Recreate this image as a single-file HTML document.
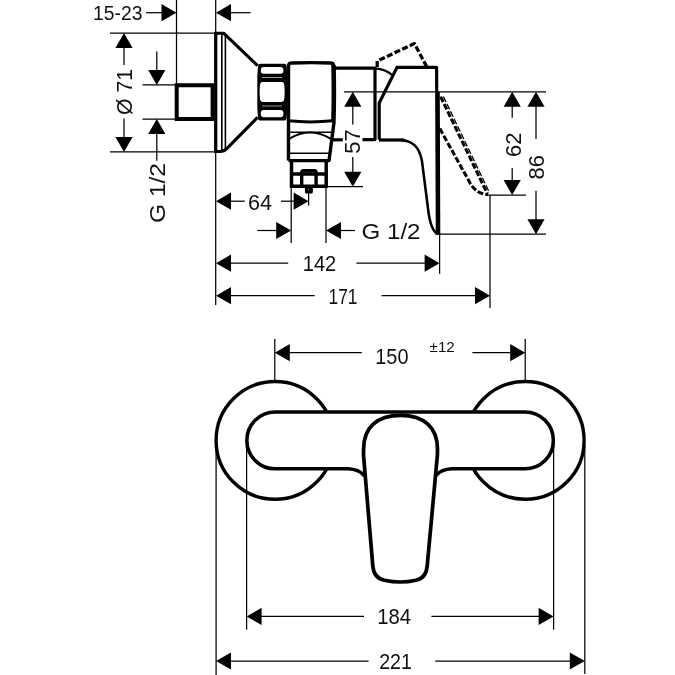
<!DOCTYPE html>
<html><head><meta charset="utf-8"><title>Drawing</title>
<style>
html,body{margin:0;padding:0;background:#fff;}
svg{display:block;will-change:transform;opacity:0.999}
text{font-family:"Liberation Sans",sans-serif;fill:#111;stroke:none}
.a{fill:#000;stroke:none}
</style></head><body>
<svg width="675" height="675" viewBox="0 0 675 675" fill="none" stroke="#000" stroke-linecap="butt" stroke-linejoin="round">
<line x1="176.5" y1="0" x2="176.5" y2="86" stroke-width="1.25"/>
<line x1="215.7" y1="0" x2="215.7" y2="305" stroke-width="1.25"/>
<line x1="110" y1="33.1" x2="216" y2="33.1" stroke-width="1.25"/>
<line x1="110" y1="151.9" x2="216" y2="151.9" stroke-width="1.25"/>
<line x1="142.5" y1="84.9" x2="176.5" y2="84.9" stroke-width="1.25"/>
<line x1="142.5" y1="119" x2="176.5" y2="119" stroke-width="1.25"/>
<polygon class="a" points="124.0,33.1 115.4,48.1 132.6,48.1"/>
<line x1="124" y1="47" x2="124" y2="65" stroke-width="1.25"/>
<line x1="124" y1="118.4" x2="124" y2="137" stroke-width="1.25"/>
<polygon class="a" points="124.0,151.9 115.4,136.9 132.6,136.9"/>
<line x1="156.8" y1="51.6" x2="156.8" y2="71" stroke-width="1.25"/>
<polygon class="a" points="156.8,84.9 148.2,69.9 165.4,69.9"/>
<polygon class="a" points="156.8,119.0 148.2,134.0 165.4,134.0"/>
<line x1="156.8" y1="133" x2="156.8" y2="160.7" stroke-width="1.25"/>
<line x1="146" y1="12.7" x2="162" y2="12.7" stroke-width="1.25"/>
<polygon class="a" points="176.5,12.7 161.5,4.1 161.5,21.3"/>
<polygon class="a" points="216.0,12.7 231.0,4.1 231.0,21.3"/>
<line x1="230" y1="12.7" x2="250.5" y2="12.7" stroke-width="1.25"/>
<line x1="343.9" y1="91.8" x2="546" y2="91.8" stroke-width="1.25"/>
<polygon class="a" points="352.8,91.8 344.2,106.8 361.4,106.8"/>
<line x1="352.8" y1="106" x2="352.8" y2="124.4" stroke-width="1.25"/>
<line x1="352.8" y1="157" x2="352.8" y2="173" stroke-width="1.25"/>
<polygon class="a" points="352.8,186.7 344.2,171.7 361.4,171.7"/>
<line x1="327" y1="186.7" x2="363" y2="186.7" stroke-width="1.25"/>
<polygon class="a" points="512.2,91.8 503.6,106.8 520.8,106.8"/>
<line x1="512.2" y1="106" x2="512.2" y2="117.8" stroke-width="1.25"/>
<line x1="512.2" y1="168" x2="512.2" y2="181" stroke-width="1.25"/>
<polygon class="a" points="512.2,195.0 503.6,180.0 520.8,180.0"/>
<line x1="487" y1="195" x2="526" y2="195" stroke-width="1.25"/>
<polygon class="a" points="536.0,91.8 527.4,106.8 544.6,106.8"/>
<line x1="536" y1="106" x2="536" y2="139" stroke-width="1.25"/>
<line x1="536" y1="190.8" x2="536" y2="220" stroke-width="1.25"/>
<polygon class="a" points="536.0,234.2 527.4,219.2 544.6,219.2"/>
<line x1="439" y1="234.2" x2="546" y2="234.2" stroke-width="1.25"/>
<line x1="439.6" y1="234" x2="439.6" y2="273.8" stroke-width="1.25"/>
<line x1="490" y1="195" x2="490" y2="308" stroke-width="1.25"/>
<line x1="291.2" y1="186" x2="291.2" y2="243" stroke-width="1.25"/>
<line x1="326" y1="186" x2="326" y2="243" stroke-width="1.25"/>
<line x1="308.6" y1="193" x2="308.6" y2="205.6" stroke-width="1.25"/>
<polygon class="a" points="216.0,201.2 231.0,192.6 231.0,209.8"/>
<line x1="230" y1="201.2" x2="244.8" y2="201.2" stroke-width="1.25"/>
<line x1="281" y1="201.2" x2="294.5" y2="201.2" stroke-width="1.25"/>
<polygon class="a" points="308.6,201.2 293.6,192.6 293.6,209.8"/>
<line x1="257.4" y1="230.5" x2="277" y2="230.5" stroke-width="1.25"/>
<polygon class="a" points="291.2,230.5 276.2,221.9 276.2,239.1"/>
<polygon class="a" points="326.0,230.5 341.0,221.9 341.0,239.1"/>
<line x1="340" y1="230.5" x2="355" y2="230.5" stroke-width="1.25"/>
<polygon class="a" points="216.0,263.2 231.0,254.6 231.0,271.8"/>
<line x1="230" y1="263.2" x2="288.2" y2="263.2" stroke-width="1.25"/>
<line x1="356.4" y1="263.2" x2="425" y2="263.2" stroke-width="1.25"/>
<polygon class="a" points="439.6,263.2 424.6,254.6 424.6,271.8"/>
<polygon class="a" points="216.0,295.7 231.0,287.1 231.0,304.3"/>
<line x1="230" y1="295.7" x2="314.6" y2="295.7" stroke-width="1.25"/>
<line x1="381.6" y1="295.7" x2="475" y2="295.7" stroke-width="1.25"/>
<polygon class="a" points="490.0,295.7 475.0,287.1 475.0,304.3"/>
<text x="117.7" y="20.2" font-size="20" text-anchor="middle" textLength="49.4" lengthAdjust="spacingAndGlyphs">15-23</text>
<text x="132.4" y="92" font-size="21.5" text-anchor="middle" transform="rotate(-90 132.4 92)" textLength="46" lengthAdjust="spacingAndGlyphs">Ø 71</text>
<text x="165" y="193" font-size="22" text-anchor="middle" transform="rotate(-90 165 193)" textLength="60" lengthAdjust="spacingAndGlyphs">G 1/2</text>
<text x="260" y="210" font-size="22" text-anchor="middle" textLength="24" lengthAdjust="spacingAndGlyphs">64</text>
<text x="391" y="238.6" font-size="22" text-anchor="middle" textLength="59" lengthAdjust="spacingAndGlyphs">G 1/2</text>
<text x="319.5" y="270.8" font-size="22" text-anchor="middle" textLength="33.5" lengthAdjust="spacingAndGlyphs">142</text>
<text x="343" y="303.7" font-size="22" text-anchor="middle" textLength="29" lengthAdjust="spacingAndGlyphs">171</text>
<text x="360.4" y="141.5" font-size="22" text-anchor="middle" transform="rotate(-90 360.4 141.5)">57</text>
<text x="520.8" y="144.8" font-size="22" text-anchor="middle" transform="rotate(-90 520.8 144.8)">62</text>
<text x="544.2" y="167.2" font-size="22" text-anchor="middle" transform="rotate(-90 544.2 167.2)">86</text>
<path d="M214,85.2 H176.7 V119 H214" stroke-width="4.0" stroke-linejoin="miter"/>
<line x1="212.4" y1="84" x2="212.4" y2="120" stroke-width="3.6"/>
<path d="M215.7,32 V153" stroke-width="3.3" />
<path d="M214.4,33.2 H223.6 L257.5,65.6" stroke-width="3.1" />
<path d="M214.4,151.5 H220 Q224,151.5 227,148.4 L257.5,117.4" stroke-width="3.1" />
<line x1="221.8" y1="33" x2="221.8" y2="152" stroke-width="1.7"/>
<path d="M225.4,35 V150" stroke-width="1.6" />
<path d="M260.4,63.8 H284.2 Q286.4,63.8 286.6,66 L287.3,76 V108 L286.6,118.4 Q286.4,120.6 284.2,120.6 H260.4 Q258.2,120.6 258,118.4 L257.3,108 V76 L258,66 Q258.2,63.8 260.4,63.8 Z" fill="#000" stroke="none"/>
<rect x="260.8" y="67" width="22.6" height="6.8" rx="3" fill="#fff" stroke="none"/>
<rect x="260.8" y="110" width="22.6" height="7.2" rx="3" fill="#fff" stroke="none"/>
<path d="M262.4,81.9 H281.8 Q284.2,82 284.4,86 Q285,92 284.4,98 Q284.2,101.8 281.8,101.9 H262.4 Q260,101.8 259.9,98 Q259.3,92 259.9,86 Q260,82 262.4,81.9 Z" fill="#fff" stroke="none"/>
<rect x="262" y="77.1" width="20" height="0.8" fill="#bbb" stroke="none"/>
<rect x="262" y="105.6" width="20" height="0.8" fill="#bbb" stroke="none"/>
<path d="M288.5,160.6 V66 Q288.5,63 291.5,63 Q312,62.3 331,63 Q333.6,63.2 333.6,66" stroke-width="3.4" />
<path d="M333.5,65 Q334.3,95 333.4,121" stroke-width="4.6" />
<path d="M334.2,121 L329,160.6 H288.5" stroke-width="3.4" />
<path d="M288.5,120.8 Q310,123 333,120.8" stroke-width="3.0" />
<line x1="289" y1="132.2" x2="331.5" y2="132.2" stroke-width="1.5"/>
<path d="M289.6,138.6 Q310,126.4 330.4,138.6" stroke-width="1.9" />
<line x1="289" y1="153.2" x2="330" y2="153.2" stroke-width="1.5"/>
<path d="M334.6,68.2 H375 V139.6 H362.5" stroke-width="3.2" />
<path d="M342.8,139.8 H330" stroke-width="3.2" />
<path d="M291.5,160 V186.2 H326.2 V160" stroke-width="3.5" stroke-linejoin="miter"/>
<line x1="291.5" y1="174" x2="326.2" y2="174" stroke-width="3.6"/>
<path d="M301.7,186 V172.6 Q301.7,170.8 303.5,170.8 H314.3 Q316.1,170.8 316.1,172.6 V186" stroke-width="3.4" />
<rect x="304.9" y="186" width="8" height="7.6" rx="1.6" fill="#000" stroke="none"/>
<circle cx="308.6" cy="189.2" r="0.55" fill="#ddd" stroke="none"/>
<path d="M379.2,139.6 V103 L397,67.4 H437 " stroke-width="3.2" />
<path d="M375,68.4 Q386,69.5 392,75" stroke-width="2.2" />
<path d="M379,140 H404" stroke-width="3.2" />
<path d="M401,140.1 C412,140.6 419,146 421.9,160.6 L428,208.3 C429.5,222 432,231.5 438,234.2" stroke-width="2.6" />
<path d="M436.6,66.2 L437.4,234.6" stroke-width="3.2" />
<path d="M438.8,92 L439.3,234.6" stroke-width="2.0" />
<path d="M377.2,67 V61 L414.4,43.6 L426.6,66.5" stroke-width="3.3" stroke-dasharray="6 2.4"/>
<path d="M440.6,96.6 L487.5,194" stroke-width="3.0" stroke-dasharray="6 2.2"/>
<path d="M439.8,128.6 L469.5,182 Q476,194.3 488,194.5" stroke-width="3.0" stroke-dasharray="6 2.2"/>
<path d="M443.4,96.6 L488.6,190.8" stroke-width="1.3" stroke-dasharray="6 2.2"/>
<line x1="274.8" y1="338.9" x2="274.8" y2="381" stroke-width="1.25"/>
<line x1="525.2" y1="338.9" x2="525.2" y2="381" stroke-width="1.25"/>
<polygon class="a" points="274.8,352.7 289.8,344.1 289.8,361.3"/>
<line x1="289" y1="352.7" x2="361.8" y2="352.7" stroke-width="1.25"/>
<line x1="472.4" y1="352.7" x2="511" y2="352.7" stroke-width="1.25"/>
<polygon class="a" points="525.2,352.7 510.2,344.1 510.2,361.3"/>
<text x="391.9" y="364.3" font-size="22" text-anchor="middle" textLength="33.2" lengthAdjust="spacingAndGlyphs">150</text>
<text x="442.2" y="352.4" font-size="14.6" text-anchor="middle" textLength="25.2" lengthAdjust="spacingAndGlyphs">±12</text>
<line x1="216.1" y1="446" x2="216.1" y2="675" stroke-width="1.25"/>
<line x1="584.8" y1="446" x2="584.8" y2="674" stroke-width="1.25"/>
<line x1="246.6" y1="440" x2="246.6" y2="629.7" stroke-width="1.25"/>
<line x1="553.6" y1="440" x2="553.6" y2="629.7" stroke-width="1.25"/>
<polygon class="a" points="246.6,616.4 261.6,607.8 261.6,625.0"/>
<line x1="260" y1="616.4" x2="364" y2="616.4" stroke-width="1.25"/>
<line x1="431.4" y1="616.4" x2="539" y2="616.4" stroke-width="1.25"/>
<polygon class="a" points="553.6,616.4 538.6,607.8 538.6,625.0"/>
<polygon class="a" points="216.0,661.0 231.0,652.4 231.0,669.6"/>
<line x1="230" y1="661" x2="368.6" y2="661" stroke-width="1.25"/>
<line x1="435.2" y1="661" x2="570" y2="661" stroke-width="1.25"/>
<polygon class="a" points="584.8,661.0 569.8,652.4 569.8,669.6"/>
<text x="394.2" y="624.2" font-size="22" text-anchor="middle" textLength="33.8" lengthAdjust="spacingAndGlyphs">184</text>
<text x="395.6" y="669.2" font-size="22" text-anchor="middle" textLength="32.8" lengthAdjust="spacingAndGlyphs">221</text>
<circle cx="275" cy="440.4" r="58.9" stroke-width="3.4"/>
<circle cx="525.2" cy="440.4" r="58.9" stroke-width="3.4"/>
<path d="M275.2,412 H525 A28.4,28.4 0 0 1 525,468.8 H452 Q441,469.5 436.6,475 L363.6,475 Q359,469.5 348,468.8 H275.2 A28.4,28.4 0 0 1 275.2,412 Z" stroke-width="3.6" fill="#fff"/>
<path d="M363.5,455 L363.6,449 C363.6,427.5 377,415.4 400.5,415.4 C424,415.4 437.5,427.5 437.5,449 L437.4,455 L427.2,566 Q426.2,578 416,580.2 Q400.4,583.8 384.4,580.2 Q373.8,578 372.8,566 Z" stroke-width="3.7" fill="#fff"/>
</svg>
</body></html>
